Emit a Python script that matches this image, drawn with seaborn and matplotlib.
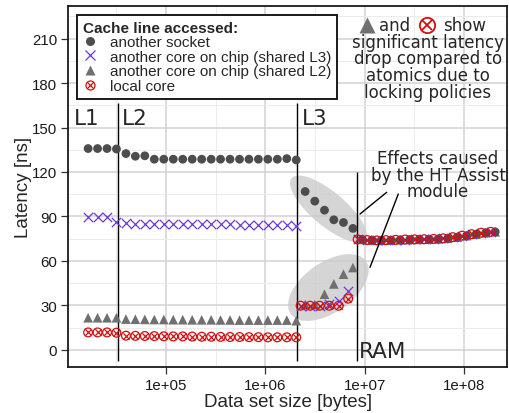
import numpy as np
import pandas as pd
import matplotlib
matplotlib.use("Agg")
import matplotlib.pyplot as plt
import seaborn as sns
from matplotlib.patches import Ellipse
from matplotlib.transforms import IdentityTransform
from matplotlib.lines import Line2D
from matplotlib.legend_handler import HandlerTuple

# ---------------- data ----------------
# x positions for "another socket" and "shared L2" series
size_a = [16384, 20400, 25400, 31600, 39400, 49000, 61000, 76000, 94700, 118000,
          147000, 183000, 228000, 284000, 353000, 440000, 548000, 682000, 849000,
          1057000, 1317000, 1640000, 2042000,
          2510000, 3140000, 3930000, 4880000, 6100000, 7600000,
          9420000, 11740000, 14600000, 18200000, 22700000, 28300000, 35300000,
          44000000, 54800000, 68400000, 85200000, 106000000, 132000000, 165000000,
          205600000]
# x positions for "shared L3" and "local core" series
size_b = [16384, 20400, 25400, 31600, 39400, 49000, 61000, 76000, 94700, 118000,
          147000, 183000, 228000, 284000, 353000, 440000, 548000, 682000, 849000,
          1057000, 1317000, 1640000, 2042000,
          2260000, 2820000, 3510000, 4380000, 5460000, 6810000,
          8480000, 10570000, 13200000, 16400000, 20500000, 25500000, 31800000,
          39600000, 49400000, 61600000, 76800000, 95700000, 119000000, 148600000,
          185000000]
lat_socket = [135.8, 135.8, 135.8, 135.5, 132.4, 130.6, 130.9, 128.6, 128.6, 128.6,
              128.6, 128.6, 128.6, 128.6, 128.6, 128.6, 128.6, 128.6, 128.6, 128.6,
              128.6, 129.0, 128.1,
              106.8, 100.3, 94.2, 87.7, 85.9, 81.9,
              74.5, 74.0, 73.8, 74.0, 74.2, 74.4, 74.5, 74.6, 74.8, 75.2, 76.0, 77.0,
              78.0, 79.0, 79.6]
lat_chip_l3 = [89.3, 89.3, 89.3, 86.5, 85.5, 85.2, 85.0, 85.0, 85.0, 85.0, 85.0, 85.0,
               85.0, 84.8, 84.8, 84.6, 84.5, 84.5, 84.4, 84.3, 84.2, 84.0, 83.8,
               29.5, 29.5, 29.8, 30.8, 33.0, 39.8,
               74.5, 74.0, 73.8, 74.0, 74.2, 74.4, 74.5, 74.6, 74.8, 75.2, 76.0, 77.0,
               78.0, 79.0, 79.6]
lat_chip_l2 = [21.6, 21.6, 21.6, 21.6, 20.7, 20.6, 20.5, 20.4, 20.4, 20.3, 20.3, 20.2,
               20.2, 20.2, 20.1, 20.1, 20.0, 20.0, 20.0, 20.0, 20.0, 20.0, 19.6,
               30.5, 30.5, 37.5, 44.4, 51.0, 55.5,
               74.5, 74.0, 73.8, 74.0, 74.2, 74.4, 74.5, 74.6, 74.8, 75.2, 76.0, 77.0,
               78.0, 79.0, 79.6]
lat_local = [11.7, 11.7, 11.7, 11.5, 9.5, 9.4, 9.3, 9.2, 9.1, 9.0, 9.0, 8.9, 8.8, 8.8,
             8.7, 8.6, 8.6, 8.5, 8.5, 8.4, 8.4, 8.4, 8.4,
             29.7, 29.7, 29.7, 29.7, 29.7, 34.5,
             74.5, 74.0, 73.8, 74.0, 74.2, 74.4, 74.5, 74.6, 74.8, 75.2, 76.0, 77.0,
             78.0, 79.0, 79.6]

series_labels = ["another socket", "another core on chip (shared L3)",
                 "another core on chip (shared L2)", "local core"]
cache_bounds = [32768, 2097152]
ram_bound = [8388608]
y_ticks = [0, 30, 60, 90, 120, 150, 180, 210]
x_ticks = [1e5, 1e6, 1e7, 1e8]
x_ticklabels = ["1e+05", "1e+06", "1e+07", "1e+08"]

df_a = pd.DataFrame({"size": size_a, "socket": lat_socket, "l2": lat_chip_l2})
df_b = pd.DataFrame({"size": size_b, "l3": lat_chip_l3, "local": lat_local})

# ---------------- style ----------------
sns.set_theme(style="white")
plt.rcParams['font.family'] = ['Liberation Sans', 'DejaVu Sans']

C_SOCK = "#4d4d4d"
C_L3 = "#6a3ad6"
C_L2 = "#707070"
C_LOC = "#d01010"

W, H = 510, 414
fig = plt.figure(figsize=(W / 100, H / 100), dpi=100)
L, R, B, T = 68.3, 507.5, 367.5, 7.3
ax = fig.add_axes([L / W, (H - B) / H, (R - L) / W, (B - T) / H])
ax.set_xscale("log")
ax.set_xlim(10 ** 4.015, 10 ** 8.437)
ax.set_ylim(-11.3, 231.8)

def frac(xp, yp):
    return ((xp - L) / (R - L), (B - yp) / (B - T))

# grid (ggplot-like)
for v in [10 ** 4.5, 10 ** 5.5, 10 ** 6.5, 10 ** 7.5]:
    ax.axvline(v, color="#ececec", lw=0.7, zorder=0)
for v in x_ticks:
    ax.axvline(v, color="#d2d2d2", lw=1.1, zorder=0)
for v in np.arange(15, 230, 30):
    ax.axhline(v, color="#ececec", lw=0.7, zorder=0)
for v in y_ticks:
    ax.axhline(v, color="#d2d2d2", lw=1.1, zorder=0)

# ellipses (highlight), anchored at data positions
def px(xd, yd):
    return ax.transData.transform((xd, yd))

e1 = Ellipse(xy=px(4.3e6, 95), width=96, height=34, angle=-40,
             transform=IdentityTransform(), facecolor="#c8c8c8", alpha=0.75,
             edgecolor="none", zorder=1)
ax.add_patch(e1)
e2 = Ellipse(xy=px(4.3e6, 42), width=92, height=50, angle=35,
             transform=IdentityTransform(), facecolor="#c8c8c8", alpha=0.75,
             edgecolor="none", zorder=1)
ax.add_patch(e2)

# cache boundaries
ax.vlines(cache_bounds, -7.6, 166.3, color="black", lw=1.0, zorder=2)
ax.vlines(ram_bound, -7.6, 120, color="black", lw=1.0, zorder=2)

# data
sns.scatterplot(data=df_a, x="size", y="l2", marker="^", color=C_L2, s=48,
                edgecolor="none", ax=ax, zorder=3, legend=False)
sns.scatterplot(data=df_a, x="size", y="socket", marker="o", color=C_SOCK, s=40,
                edgecolor="none", ax=ax, zorder=3, legend=False)
sns.scatterplot(data=df_b, x="size", y="l3", marker="x", color=C_L3, s=45,
                linewidth=0.9, ax=ax, zorder=4, legend=False)
sns.scatterplot(data=df_b, x="size", y="local", marker="o", facecolor="none",
                edgecolor=C_LOC, s=40, linewidth=0.9, ax=ax, zorder=5, legend=False)
sns.scatterplot(data=df_b, x="size", y="local", marker="x", color=C_LOC, s=20,
                linewidth=0.9, ax=ax, zorder=5, legend=False)

# axes styling
ax.set_xticks(x_ticks)
ax.set_xticklabels(x_ticklabels)
ax.set_xticks([], minor=True)
ax.set_yticks(y_ticks)
ax.tick_params(axis="both", direction="out", length=5, width=0.9, color="#333333",
               labelsize=10.8, labelcolor="#1a1a1a", pad=3, bottom=True, left=True)
for s in ax.spines.values():
    s.set_color("#1a1a1a")
    s.set_linewidth(1.3)
ax.set_xlabel("Data set size [bytes]", fontsize=13.5, labelpad=1)
ax.set_ylabel("Latency [ns]", fontsize=13.5)
ax.yaxis.set_label_coords(-0.082, 0.5)

# cache labels
ann = ["DejaVu Sans"]
for lab, xp, yp in [("L1", 74, 125), ("L2", 122, 125), ("L3", 301.5, 125), ("RAM", 359, 358)]:
    fx, fy = frac(xp, yp)
    ax.text(fx, fy, lab, transform=ax.transAxes, fontsize=15.5, family=ann,
            va="baseline", ha="left")

# HT assist annotation
for t, yp in zip(["Effects caused", "by the HT Assist", "module"], [164.5, 181, 197.5]):
    fx, fy = frac(438, yp)
    ax.text(fx, fy, t, transform=ax.transAxes, ha="center", va="baseline",
            fontsize=12, family=ann)
for (x0, y0), (x1, y1) in [((386.7, 193.3), (360, 215)), ((398.3, 195), (370, 268.3))]:
    a0 = frac(x0, y0); a1 = frac(x1, y1)
    ax.add_line(Line2D([a0[0], a1[0]], [a0[1], a1[1]], transform=ax.transAxes,
                       color="black", lw=1.0, zorder=6))

# top-right note
note_lines = ["significant latency", "drop compared to", "atomics due to", "locking policies"]
for t, yp in zip(note_lines, [47.5, 64.3, 81.0, 97.8]):
    fx, fy = frac(427.8, yp)
    ax.text(fx, fy, t, transform=ax.transAxes, ha="center", va="baseline",
            fontsize=12, family=ann)
fx, fy = frac(395, 30.8)
ax.text(fx, fy, "and", transform=ax.transAxes, ha="center", va="baseline", fontsize=12, family=ann)
fx, fy = frac(465, 30.8)
ax.text(fx, fy, "show", transform=ax.transAxes, ha="center", va="baseline", fontsize=12, family=ann)
fx, fy = frac(367.5, 26)
ax.plot([fx], [fy], marker="^", color=C_L2, ms=11, mec="none", transform=ax.transAxes,
        clip_on=False)
fx, fy = frac(427, 26.3)
ax.plot([fx], [fy], marker="o", mfc="none", mec=C_LOC, ms=11, mew=1.3, transform=ax.transAxes)
ax.plot([fx], [fy], marker="x", color=C_LOC, ms=7.8, mew=1.3, transform=ax.transAxes)

# legend
h_sock = Line2D([], [], marker="o", ls="none", color=C_SOCK, ms=6.5, mec="none")
h_l3 = Line2D([], [], marker="x", ls="none", color=C_L3, ms=6.7, mew=0.9)
h_l2 = Line2D([], [], marker="^", ls="none", color=C_L2, ms=7, mec="none")
h_loc1 = Line2D([], [], marker="o", ls="none", mfc="none", mec=C_LOC, ms=6.5, mew=0.9)
h_loc2 = Line2D([], [], marker="x", ls="none", color=C_LOC, ms=4.6, mew=0.9)
leg = ax.legend([h_sock, h_l3, h_l2, (h_loc1, h_loc2)], series_labels,
                handler_map={tuple: HandlerTuple(ndivide=1, pad=0)},
                title="Cache line accessed:", loc="upper left",
                bbox_to_anchor=frac(76.7, 15.5), fontsize=11, title_fontsize=11,
                frameon=True, fancybox=False, edgecolor="#1a1a1a", framealpha=1,
                borderpad=0.4, labelspacing=0.04, handlelength=1.0, handletextpad=0.75,
                borderaxespad=0)
leg.get_title().set_fontweight("bold")
leg._legend_box.align = "left"
leg.get_frame().set_linewidth(1.4)
leg.set_zorder(10)

fig.savefig("out.png", dpi=100)
